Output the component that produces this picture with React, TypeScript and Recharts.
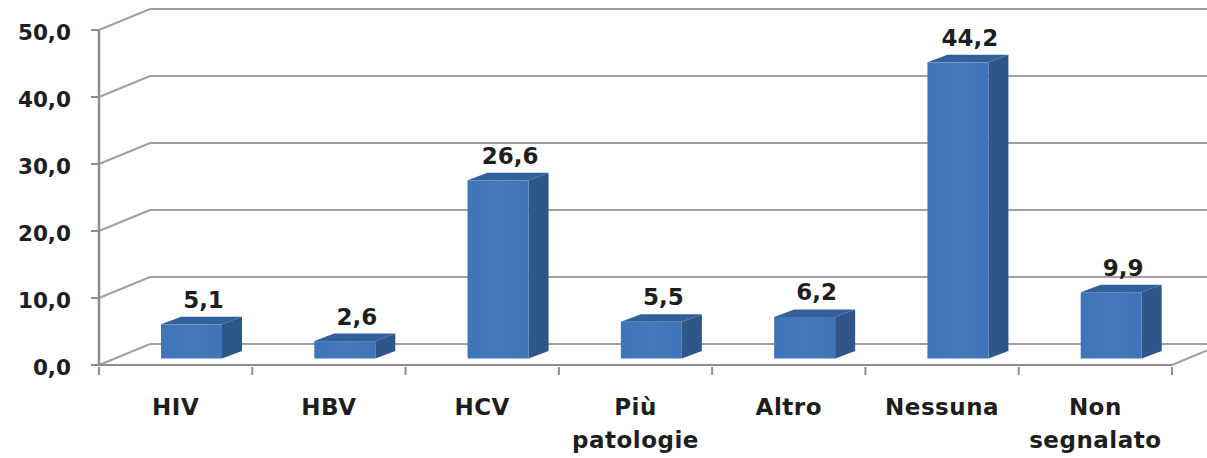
import React from "react";
import { BarChart, Bar, XAxis, YAxis, CartesianGrid, LabelList } from "recharts";

const categories = ["HIV", "HBV", "HCV", "Più patologie", "Altro", "Nessuna", "Non segnalato"];
const values = [5.1, 2.6, 26.6, 5.5, 6.2, 44.2, 9.9];
const yTicks = [0, 10, 20, 30, 40, 50];

const rows = categories.map((name, i) => ({ name, value: values[i] }));

const FONT = "'DejaVu Sans', sans-serif";
const INK = "#1e1e1e";
const GRID = "#a0a0a0";
const AXIS = "#8e8e8e";
const DX = 51;
const DY = 21;
const BAR_SHIFT_X = 16;
const BAR_SHIFT_Y = 6.5;
const DEPTH_X = 20;
const DEPTH_Y = 7.5;
const fmt = (v: number) => v.toFixed(1).replace(".", ",");

function Box(props: any) {
  const x = props.x + BAR_SHIFT_X;
  const y = props.y - BAR_SHIFT_Y;
  const w = props.width;
  const h = props.height;
  return (
    <g>
      <polygon
        points={`${x},${y} ${x + DEPTH_X},${y - DEPTH_Y} ${x + w + DEPTH_X},${y - DEPTH_Y} ${x + w},${y}`}
        fill="#34609a"
      />
      <polygon
        points={`${x + w},${y} ${x + w + DEPTH_X},${y - DEPTH_Y} ${x + w + DEPTH_X},${y + h - DEPTH_Y} ${x + w},${y + h}`}
        fill="#2f5688"
      />
      <rect x={x} y={y} width={w} height={h} fill="url(#front)" />
    </g>
  );
}

function BarValue(props: any) {
  const { x, y, width, value } = props;
  return (
    <text
      x={x + width / 2 + BAR_SHIFT_X + 12}
      y={y - BAR_SHIFT_Y - 16.5}
      textAnchor="middle"
      fontFamily={FONT}
      fontWeight={700}
      fontSize={23}
      fill={INK}
    >
      {fmt(Number(value))}
    </text>
  );
}

function CategoryTick(props: any) {
  const { x, y, payload, width, visibleTicksCount, index } = props;
  const step = width / visibleTicksCount;
  const lines = String(payload.value).split(" ");
  const last = index === visibleTicksCount - 1;
  return (
    <g>
      <line x1={x - step / 2} x2={x - step / 2} y1={y - 8} y2={y} stroke={AXIS} strokeWidth={2} />
      {last && <line x1={x + step / 2} x2={x + step / 2} y1={y - 8} y2={y} stroke={AXIS} strokeWidth={2} />}
      <text textAnchor="middle" fontFamily={FONT} fontWeight={700} fontSize={23} letterSpacing={0.5} fill={INK}>
        {lines.map((line, i) => (
          <tspan key={line} x={x} y={y + 40 + i * 33}>
            {line}
          </tspan>
        ))}
      </text>
    </g>
  );
}

function ValueTick(props: any) {
  const { x, y, payload } = props;
  return (
    <text x={x + 1} y={y + 10} textAnchor="end" fontFamily={FONT} fontWeight={700} fontSize={21.5} fill={INK}>
      {fmt(Number(payload.value))}
    </text>
  );
}

function WallLine(props: any) {
  const { x1, x2, y1, y2 } = props;
  const isFloor = y1 > 300;
  return (
    <g>
      <polyline
        points={`${x1},${y1} ${x1 + DX},${y1 - DY} ${x2 + 35},${y2 - DY}`}
        fill="none"
        stroke={GRID}
        strokeWidth={2}
      />
      {isFloor && (
        <line x1={x2} y1={y2} x2={x2 + 35} y2={y2 - 14.5} stroke={GRID} strokeWidth={2} />
      )}
    </g>
  );
}

export default function App() {
  return (
    <div style={{ width: 1207, height: 458, background: "#fff" }}>
      <style>{`html, body { margin: 0; padding: 0; background: #fff; }`}</style>
      <BarChart
        width={1207}
        height={458}
        data={rows}
        barSize={61}
        margin={{ top: 30, right: 35, bottom: 0, left: 0 }}
      >
        <defs>
          <linearGradient id="front" x1="0" y1="0" x2="1" y2="0">
            <stop offset="0" stopColor="#3f75b8" />
            <stop offset="0.5" stopColor="#447abd" />
            <stop offset="1" stopColor="#3f75b7" />
          </linearGradient>
        </defs>
        <CartesianGrid vertical={false} horizontal={(p: any) => <WallLine key={p.key ?? p.y1} {...p} />} />
        <XAxis
          dataKey="name"
          interval={0}
          height={93}
          tickLine={false}
          tickSize={8}
          axisLine={{ stroke: AXIS, strokeWidth: 2 }}
          tick={<CategoryTick />}
        />
        <YAxis
          domain={[0, 50]}
          ticks={yTicks}
          width={99}
          tickSize={8}
          tickMargin={21}
          tickLine={{ stroke: AXIS, strokeWidth: 2 }}
          axisLine={{ stroke: AXIS, strokeWidth: 2.5 }}
          tick={<ValueTick />}
        />
        <Bar dataKey="value" shape={<Box />} isAnimationActive={false}>
          <LabelList dataKey="value" content={<BarValue />} />
        </Bar>
      </BarChart>
    </div>
  );
}
